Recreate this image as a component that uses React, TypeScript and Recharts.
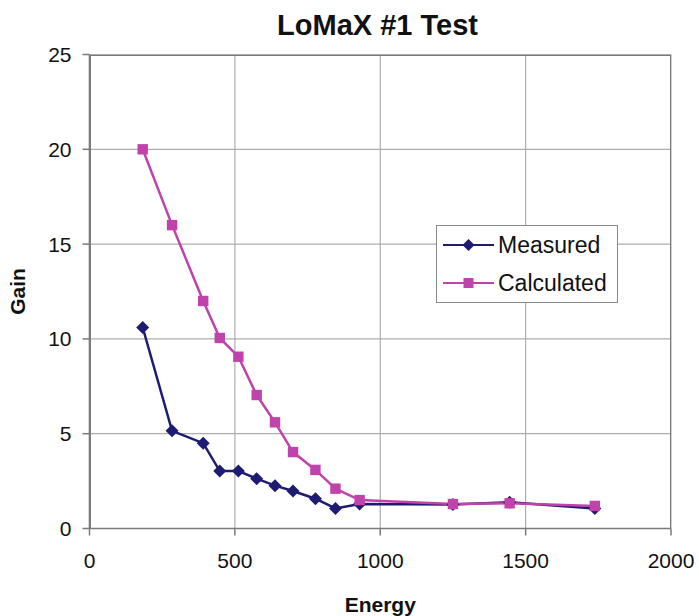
import React from "react";
import { LineChart, Line, XAxis, YAxis, CartesianGrid, Legend, Label } from "recharts";

const energy = [183, 284, 391, 448, 512, 575, 638, 700, 777, 846, 929, 1250, 1445, 1738];
const measured = [10.6, 5.15, 4.5, 3.03, 3.03, 2.63, 2.26, 1.98, 1.57, 1.06, 1.29, 1.27, 1.38, 1.05];
const calculated = [20.0, 16.0, 12.0, 10.05, 9.06, 7.04, 5.6, 4.03, 3.09, 2.1, 1.5, 1.29, 1.33, 1.19];
const xTicks = [0, 500, 1000, 1500, 2000];
const yTicks = [0, 5, 10, 15, 20, 25];

const data = energy.map((e, i) => ({ energy: e, measured: measured[i], calculated: calculated[i] }));

const MEASURED_COLOR = "#1e1b73";
const CALC_COLOR = "#c043ab";
const FONT = "'Liberation Sans', Arial, sans-serif";

const Diamond = (props: any) => {
  const { cx, cy } = props;
  if (cx == null || cy == null) return null;
  const r = 6.5;
  return <path d={`M${cx},${cy - r}L${cx + r},${cy}L${cx},${cy + r}L${cx - r},${cy}Z`} fill={MEASURED_COLOR} />;
};

const Square = (props: any) => {
  const { cx, cy } = props;
  if (cx == null || cy == null) return null;
  const s = 5.2;
  return <rect x={cx - s} y={cy - s} width={2 * s} height={2 * s} fill={CALC_COLOR} />;
};

const LegendBox = () => (
  <div
    style={{
      position: "relative",
      width: 182,
      height: 78,
      border: "1.5px solid #8a8a8a",
      background: "#fff",
      fontFamily: FONT,
      fontSize: 23,
      color: "#111",
      boxSizing: "border-box",
      textAlign: "left",
    }}
  >
    {[
      { name: "Measured", color: MEASURED_COLOR, shape: "d" },
      { name: "Calculated", color: CALC_COLOR, shape: "s" },
    ].map((it, i) => (
      <div key={it.name} style={{ position: "absolute", left: 6, top: 5 + i * 38, height: 28, display: "flex", alignItems: "center" }}>
        <svg width={52} height={20} style={{ display: "block" }}>
          <line x1={0} y1={10} x2={51} y2={10} stroke={it.color} strokeWidth={2} />
          {it.shape === "d" ? (
            <path d="M25.5,4L31.5,10L25.5,16L19.5,10Z" fill={it.color} />
          ) : (
            <rect x={20.5} y={5} width={10} height={10} fill={it.color} />
          )}
        </svg>
        <span style={{ marginLeft: 3, lineHeight: "28px" }}>{it.name}</span>
      </div>
    ))}
  </div>
);

export default function App() {
  return (
    <div style={{ position: "absolute", left: 0, top: 0, width: 699, height: 616, background: "#fff" }}>
      <div
        style={{
          position: "absolute",
          left: 0,
          top: 9,
          width: 755,
          textAlign: "center",
          fontFamily: FONT,
          fontWeight: "bold",
          fontSize: 29,
          color: "#111",
          lineHeight: "32px",
        }}
      >
        LoMaX #1 Test
      </div>
      <LineChart width={699} height={616} data={data} margin={{ top: 54.5, right: 28, bottom: 0, left: 0 }}>
        <CartesianGrid stroke="#adadad" strokeWidth={1.2} />
        <XAxis
          dataKey="energy"
          type="number"
          domain={[0, 2000]}
          ticks={xTicks}
          height={87.5}
          tickSize={7}
          tickMargin={18}
          stroke="#7a7a7a"
          strokeWidth={1.5}
          tick={{ fill: "#111", fontSize: 21, fontFamily: FONT }}
        >
          <Label
            content={(p: any) => {
              const vb = p.viewBox || {};
              return (
                <text
                  x={vb.x + vb.width / 2}
                  y={612}
                  textAnchor="middle"
                  fontFamily={FONT}
                  fontWeight="bold"
                  fontSize={21}
                  fill="#111"
                >
                  Energy
                </text>
              );
            }}
          />
        </XAxis>
        <YAxis
          type="number"
          domain={[0, 25]}
          ticks={yTicks}
          width={89.5}
          tickSize={7}
          tickMargin={11}
          stroke="#7a7a7a"
          strokeWidth={1.5}
          tick={{ fill: "#111", fontSize: 21, fontFamily: FONT }}
        >
          <Label
            content={() => (
              <text
                x={25}
                y={291.5}
                transform="rotate(-90 25 291.5)"
                textAnchor="middle"
                fontFamily={FONT}
                fontWeight="bold"
                fontSize={21}
                fill="#111"
              >
                Gain
              </text>
            )}
          />
        </YAxis>
        <Legend
          layout="horizontal"
          align="center"
          verticalAlign="middle"
          wrapperStyle={{ position: "absolute", left: 436, top: 225, width: 182, height: 78 }}
          content={() => <LegendBox />}
        />
        <Line
          type="linear"
          dataKey="measured"
          name="Measured"
          stroke={MEASURED_COLOR}
          strokeWidth={2.5}
          dot={<Diamond />}
          activeDot={false}
          isAnimationActive={false}
        />
        <Line
          type="linear"
          dataKey="calculated"
          name="Calculated"
          stroke={CALC_COLOR}
          strokeWidth={2.5}
          dot={<Square />}
          activeDot={false}
          isAnimationActive={false}
        />
      </LineChart>
      <div
        style={{
          position: "absolute",
          left: 89.5,
          top: 54.5,
          width: 581.5,
          height: 474,
          border: "1.5px solid #7a7a7a",
          boxSizing: "border-box",
          pointerEvents: "none",
        }}
      />
    </div>
  );
}
